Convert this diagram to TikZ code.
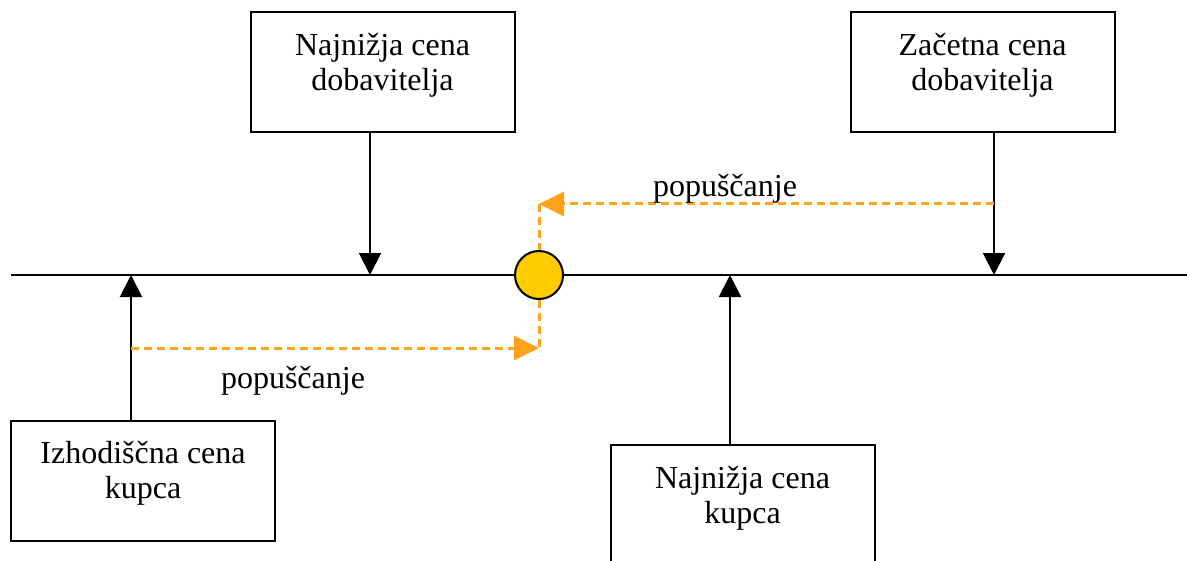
\documentclass[tikz,border=0pt]{standalone}
\usepackage{fontspec}
\setmainfont{Liberation Serif}
\usetikzlibrary{arrows.meta, positioning}

\definecolor{concede}{HTML}{FFA31A}
\definecolor{dealfill}{HTML}{FFCC00}

\begin{document}
\begin{tikzpicture}[
    x=0.5pt, y=-0.5pt,
    >={Triangle[length=11pt, width=11pt]},
    pricebox/.style={draw, line width=1pt, minimum width=132pt,
                     minimum height=60pt, inner sep=0pt},
    pricetext/.style={align=center, inner sep=0pt,
                      font=\fontsize{16}{17.5}\selectfont},
    axisline/.style={line width=1pt},
    concession/.style={draw=concede, line width=1.5pt,
                       dash pattern=on 4pt off 2.5pt,
                       >={Triangle[length=12.5pt, width=12pt]}}
  ]
  \clip (0,0) rectangle (1187,561);

  % price axis and the points on it
  \coordinate (axL) at (11,275);
  \coordinate (axR) at (1187,275);
  \coordinate (mdob) at (370,275);
  \coordinate (zdob) at (994,275);
  \coordinate (izk) at (131,275);
  \coordinate (mk) at (730,275);
  \draw[axisline] (axL) -- (axR);

  % supplier prices (above)
  \node[pricebox] (dobmin) at (382.5,72) {};
  \node[pricetext] at ([yshift=3.5pt]dobmin.center) {Najnižja cena\\dobavitelja};
  \node[pricebox] (dobzac) at (982.5,72) {};
  \node[pricetext] at ([yshift=3.5pt]dobzac.center) {Začetna cena\\dobavitelja};

  % buyer prices (below)
  \node[pricebox] (kupizh) at (143,480.5) {};
  \node[pricetext] at ([yshift=3.5pt]kupizh.center) {Izhodiščna cena\\kupca};
  \node[pricebox] (kupmin) at (742.5,505) {};
  \node[pricetext] at ([yshift=3.5pt]kupmin.center) {Najnižja cena\\kupca};

  \draw[axisline, ->] (dobmin.south -| mdob) -- (mdob);
  \draw[axisline, ->] (dobzac.south -| zdob) -- (zdob);
  \draw[axisline, ->] (kupizh.north -| izk) -- (izk);
  \draw[axisline, ->] (kupmin.north -| mk) -- (mk);

  % agreed price
  \node[circle, draw, line width=1pt, fill=dealfill, minimum size=24pt,
        inner sep=0pt] (deal) at (539,275) {};

  % concessions from both sides
  \coordinate (upc) at (539,204);
  \coordinate (lowc) at (539,348);
  \draw[concession, ->] (zdob |- upc) -- (upc);
  \draw[concession] (upc) -- (deal.north);
  \draw[concession, ->] (izk |- lowc) -- (lowc);
  \draw[concession] (deal.south) -- (lowc);

  \node[pricetext] (popdob) at (725,189) {popuščanje};
  \node[pricetext] (popkup) at (293,381) {popuščanje};
\end{tikzpicture}
\end{document}
